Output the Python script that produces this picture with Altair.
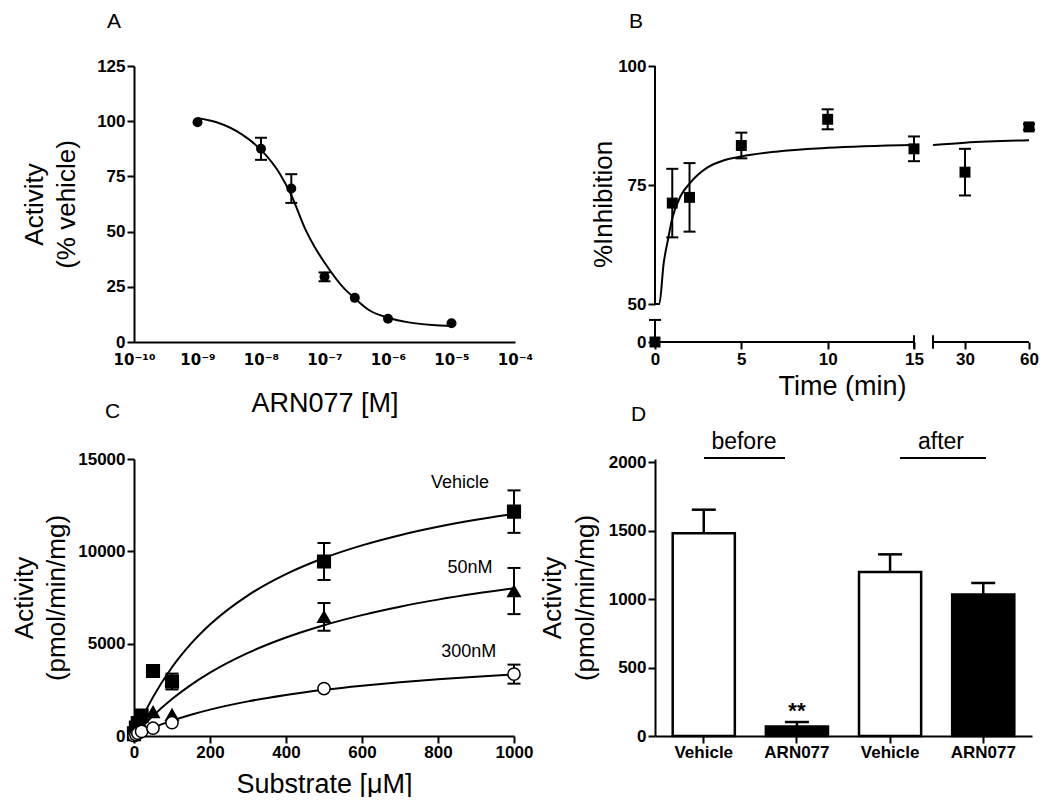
import altair as alt
import pandas as pd

FONT = "Liberation Sans"
INK = "black"

# ---------------- Panel A: concentration-response ----------------
A_CONC = [1e-9, 1e-8, 3e-8, 1e-7, 3e-7, 1e-6, 1e-5]
A_ACTIVITY = [99.5, 87.5, 69.5, 29.5, 20.0, 10.5, 8.5]
A_SEM = [0.0, 5.0, 6.5, 2.0, 0.0, 0.0, 0.0]
A_FIT_CONC = [1e-9, 2e-9, 5e-9, 1e-8, 2e-8, 3e-8, 5e-8, 7e-8, 1e-7, 2e-7,
              3e-7, 5e-7, 1e-6, 2e-6, 5e-6, 1e-5]
A_FIT_ACTIVITY = [101.5, 99.5, 94.0, 87.0, 76.0, 66.5, 51.0, 43.0, 36.0, 24.5,
                  19.8, 14.5, 11.0, 9.0, 7.7, 7.3]
A_XTICKS = [1e-10, 1e-9, 1e-8, 1e-7, 1e-6, 1e-5, 1e-4]
A_XTICK_LABELS = ["10⁻¹⁰", "10⁻⁹", "10⁻⁸", "10⁻⁷", "10⁻⁶", "10⁻⁵", "10⁻⁴"]
A_YTICKS = [0, 25, 50, 75, 100, 125]

# ---------------- Panel B: time course (broken axes) ----------------
B_TIME = [0, 1, 2, 5, 10, 15, 30, 60]
B_INHIBITION = [0.0, 71.2, 72.4, 83.3, 88.8, 82.6, 77.7, 87.2]
B_SEM = [4.8, 7.2, 7.2, 2.7, 2.1, 2.6, 4.9, 0.6]
B_FIT1_TIME = [0, 0.25, 0.5, 0.75, 1, 1.5, 2, 2.5, 3, 4, 5, 7, 10, 15]
B_FIT1_INHIBITION = [50, 50, 58.5, 63.5, 68.0, 72.8, 75.3, 77.2, 78.6, 80.2, 81.0, 82.0, 82.8, 83.4]
B_FIT2_TIME = [15.01, 30, 60]
B_FIT2_INHIBITION = [83.4, 83.9, 84.4]
B_XTICKS = [0, 5, 10, 15, 30, 60]
B_YTICKS = [0, 50, 75, 100]
B_BREAK_X = 15.01
B_LOW_TOP = 4.6

# ---------------- Panel C: substrate kinetics ----------------
C_SERIES = ["Vehicle", "50nM", "300nM"]
C_SUBSTRATE = [0, 5, 10, 20, 50, 100, 500, 1000]
C_VEHICLE = [150, 450, 700, 1100, 3520, 2950, 9450, 12150]
C_VEHICLE_SEM = [0, 0, 0, 0, 0, 430, 1000, 1150]
C_50NM = [50, 200, 350, 600, 1300, 1150, 6450, 7850]
C_50NM_SEM = [0, 0, 0, 0, 0, 0, 750, 1250]
C_300NM = [20, 80, 150, 250, 420, 720, 2570, 3350]
C_300NM_SEM = [0, 0, 0, 0, 0, 0, 0, 515]
C_FIT_SUBSTRATE = [0, 25, 50, 100, 150, 200, 300, 400, 500, 600, 700, 800, 900, 1000]
C_FIT_VEHICLE = [0, 1127, 2105, 3721, 5000, 6038, 7619, 8767, 9639, 10323, 10874, 11327, 11707, 12030]
C_FIT_50NM = [0, 571, 1091, 2000, 2769, 3429, 4500, 5333, 6000, 6545, 7000, 7385, 7714, 8000]
C_FIT_300NM = [0, 238, 455, 833, 1154, 1429, 1875, 2222, 2500, 2727, 2917, 3077, 3214, 3333]
C_XTICKS = [0, 200, 400, 600, 800, 1000]
C_YTICKS = [0, 5000, 10000, 15000]
C_LABEL_SUBSTRATE = [858, 884, 881]
C_LABEL_ACTIVITY = [13700, 9100, 4550]

# ---------------- Panel D: bars ----------------
D_KEYS = ["Vehicle|before", "ARN077|before", "Vehicle|after", "ARN077|after"]
D_TREATMENT = ["Vehicle", "ARN077", "Vehicle", "ARN077"]
D_ACTIVITY = [1480, 70, 1197, 1032]
D_SEM = [172, 32, 129, 85]
D_SIG = ["", "**", "", ""]
D_YTICKS = [0, 500, 1000, 1500, 2000]
D_GROUPS = ["before", "after"]

# ================= Panel A =================
a_df = pd.DataFrame({"conc": A_CONC, "act": A_ACTIVITY, "sem": A_SEM})
a_df["lo"] = a_df["act"] - a_df["sem"]
a_df["hi"] = a_df["act"] + a_df["sem"]
a_err = a_df[a_df["sem"] > 0]
a_caps = pd.concat([a_err[["conc"]].assign(act=a_err["lo"]), a_err[["conc"]].assign(act=a_err["hi"])])
a_fit = pd.DataFrame({"conc": A_FIT_CONC, "act": A_FIT_ACTIVITY})

parts = [f"datum.value < {t * 3:.3g} ? '{lab}'" for t, lab in zip(A_XTICKS[:-1], A_XTICK_LABELS[:-1])]
a_label_expr = " : ".join(parts) + f" : '{A_XTICK_LABELS[-1]}'"

a_sx = alt.Scale(type="log", domain=[A_XTICKS[0], A_XTICKS[-1]], nice=False)
a_sy = alt.Scale(domain=[0, 125], nice=False, zero=False)


def a_x():
    return alt.X("conc:Q", scale=a_sx,
                 axis=alt.Axis(values=A_XTICKS, labelExpr=a_label_expr, ticks=False,
                               labelFont="DejaVu Sans", labelFontSize=15,
                               title="ARN077 [M]", titleFontSize=27, labelPadding=10, titlePadding=23))


def a_y(field):
    return alt.Y(f"{field}:Q", scale=a_sy,
                 axis=alt.Axis(values=A_YTICKS, title=["Activity", "(% vehicle)"],
                               titlePadding=17, titleLineHeight=32))


a_line = alt.Chart(a_fit).mark_line(color=INK, strokeWidth=2, interpolate="monotone").encode(x=a_x(), y=a_y("act"))
a_rule = alt.Chart(a_err).mark_rule(color=INK, strokeWidth=2).encode(x=a_x(), y=a_y("lo"), y2="hi")
a_cap = alt.Chart(a_caps).mark_tick(color=INK, orient="horizontal", size=12, thickness=2, opacity=1).encode(x=a_x(), y=a_y("act"))
a_pts = alt.Chart(a_df).mark_point(shape="circle", filled=True, color=INK, size=100, opacity=1).encode(x=a_x(), y=a_y("act"))

panel_a = alt.layer(a_line, a_rule, a_cap, a_pts).properties(
    width=381, height=276,
    title=alt.TitleParams(text="A", anchor="start", frame="group", dx=-27, offset=8, fontSize=21,
                          font=FONT, fontWeight="normal", color=INK, baseline="alphabetic"))

# ================= Panel B =================
b_df = pd.DataFrame({"t": B_TIME, "v": B_INHIBITION, "sem": B_SEM})
b_df["lo"] = (b_df["v"] - b_df["sem"]).clip(lower=0)
b_df["hi"] = b_df["v"] + b_df["sem"]
b_caps = pd.concat([b_df[b_df["lo"] < b_df["v"]][["t"]].assign(v=b_df["lo"]), b_df[["t"]].assign(v=b_df["hi"])])
b_fit = pd.concat([
    pd.DataFrame({"t": B_FIT1_TIME, "v": B_FIT1_INHIBITION, "part": "early"}),
    pd.DataFrame({"t": B_FIT2_TIME, "v": B_FIT2_INHIBITION, "part": "late"}),
])
b_axis_lines = pd.DataFrame({
    "t": [0, B_BREAK_X, 0, 0],
    "t2": [15, B_XTICKS[-1], 0, 0],
    "v": [0, 0, 50, 0],
    "v2": [0, 0, 100, B_LOW_TOP],
})
b_break_marks = pd.DataFrame({"t": [15, B_BREAK_X], "v": [-1.4, -1.4], "v2": [1.4, 1.4]})

b_sx = alt.Scale(domain=[0, 15, B_BREAK_X, 60], range=[0, 259, 278, 374], nice=False, zero=False)
b_sy = alt.Scale(domain=[0, B_LOW_TOP, 50, 100], range=[276, 254, 238, 0], nice=False, zero=False)


def b_x():
    return alt.X("t:Q", scale=b_sx,
                 axis=alt.Axis(values=B_XTICKS, domain=False, title="Time (min)", titleFontSize=27,
                               titlePadding=6))


def b_y(field="v"):
    return alt.Y(f"{field}:Q", scale=b_sy,
                 axis=alt.Axis(values=B_YTICKS, domain=False, title="%Inhibition", titlePadding=1))


b_axes = alt.Chart(b_axis_lines).mark_rule(color=INK, strokeWidth=2).encode(x=b_x(), x2="t2", y=b_y(), y2="v2")
b_brk = alt.Chart(b_break_marks).mark_rule(color=INK, strokeWidth=2).encode(x=b_x(), y=b_y(), y2="v2")
b_line = alt.Chart(b_fit).mark_line(color=INK, strokeWidth=2, interpolate="monotone").encode(
    x=b_x(), y=b_y(), detail="part:N")
b_rule = alt.Chart(b_df).mark_rule(color=INK, strokeWidth=2).encode(x=b_x(), y=b_y("lo"), y2="hi")
b_cap = alt.Chart(b_caps).mark_tick(color=INK, orient="horizontal", size=12, thickness=2, opacity=1).encode(x=b_x(), y=b_y())
b_pts = alt.Chart(b_df).mark_point(shape="square", filled=True, color=INK, size=120, opacity=1).encode(x=b_x(), y=b_y())

panel_b = alt.layer(b_axes, b_brk, b_line, b_rule, b_cap, b_pts).properties(
    width=374, height=276,
    title=alt.TitleParams(text="B", anchor="start", frame="group", dx=-26, offset=8, fontSize=21,
                          font=FONT, fontWeight="normal", color=INK, baseline="alphabetic"))

# ================= Panel C =================
c_values = {"Vehicle": (C_VEHICLE, C_VEHICLE_SEM, C_FIT_VEHICLE),
            "50nM": (C_50NM, C_50NM_SEM, C_FIT_50NM),
            "300nM": (C_300NM, C_300NM_SEM, C_FIT_300NM)}
c_pts_df = pd.concat([pd.DataFrame({"s": C_SUBSTRATE, "a": c_values[k][0], "sem": c_values[k][1], "series": k})
                      for k in C_SERIES])
c_pts_df["lo"] = c_pts_df["a"] - c_pts_df["sem"]
c_pts_df["hi"] = c_pts_df["a"] + c_pts_df["sem"]
c_err = c_pts_df[c_pts_df["sem"] > 0]
c_caps = pd.concat([c_err[["s"]].assign(a=c_err["lo"]), c_err[["s"]].assign(a=c_err["hi"])])
c_fit = pd.concat([pd.DataFrame({"s": C_FIT_SUBSTRATE, "a": c_values[k][2], "series": k}) for k in C_SERIES])
c_lab = pd.DataFrame({"s": C_LABEL_SUBSTRATE, "a": C_LABEL_ACTIVITY, "series": C_SERIES})

c_sx = alt.Scale(domain=[0, 1000], nice=False, zero=False)
c_sy = alt.Scale(domain=[0, 15000], nice=False, zero=False)


def c_x():
    return alt.X("s:Q", scale=c_sx,
                 axis=alt.Axis(values=C_XTICKS, format="d", title="Substrate [μM]", titleFontSize=27,
                               labelPadding=1, titlePadding=11))


def c_y(field="a"):
    return alt.Y(f"{field}:Q", scale=c_sy,
                 axis=alt.Axis(values=C_YTICKS, format="d", title=["Activity", "(pmol/min/mg)"],
                               titlePadding=8, titleLineHeight=32))


c_line = alt.Chart(c_fit).mark_line(color=INK, strokeWidth=2, interpolate="monotone").encode(
    x=c_x(), y=c_y(), detail="series:N")
c_rule = alt.Chart(c_err).mark_rule(color=INK, strokeWidth=2).encode(x=c_x(), y=c_y("lo"), y2="hi")
c_cap = alt.Chart(c_caps).mark_tick(color=INK, orient="horizontal", size=13, thickness=2, opacity=1).encode(x=c_x(), y=c_y())
c_pts = alt.Chart(c_pts_df).mark_point(filled=True, stroke=INK, strokeWidth=1.5, opacity=1).encode(
    x=c_x(), y=c_y(),
    shape=alt.Shape("series:N", scale=alt.Scale(domain=C_SERIES, range=["square", "triangle-up", "circle"]), legend=None),
    fill=alt.Fill("series:N", scale=alt.Scale(domain=C_SERIES, range=[INK, INK, "white"]), legend=None),
    size=alt.Size("series:N", scale=alt.Scale(domain=C_SERIES, range=[160, 150, 85]), legend=None),
)
c_text = alt.Chart(c_lab).mark_text(font=FONT, fontSize=18, color=INK, align="center", baseline="middle").encode(
    x=c_x(), y=c_y(), text="series:N")

panel_c = alt.layer(c_line, c_rule, c_cap, c_pts, c_text).properties(
    width=380, height=277,
    title=alt.TitleParams(text="C", anchor="start", frame="group", dx=-29, offset=11, fontSize=21,
                          font=FONT, fontWeight="normal", color=INK, baseline="alphabetic"))

# ================= Panel D =================
d_df = pd.DataFrame({"key": D_KEYS, "treatment": D_TREATMENT, "a": D_ACTIVITY, "sem": D_SEM, "sig": D_SIG})
d_df["hi"] = d_df["a"] + d_df["sem"]
d_sig = d_df[d_df["sig"] != ""]

d_sx = alt.Scale(domain=D_KEYS, paddingInner=0.333, paddingOuter=0.19)
d_sy = alt.Scale(domain=[0, 2022], nice=False, zero=False)


def d_x():
    return alt.X("key:N", scale=d_sx, sort=D_KEYS,
                 axis=alt.Axis(labelExpr="split(datum.label, '|')[0]", labelAngle=0, title=None, labelPadding=1))


def d_y(field="a"):
    return alt.Y(f"{field}:Q", scale=d_sy,
                 axis=alt.Axis(values=D_YTICKS, format="d", title=["Activity", "(pmol/min/mg)"],
                               titlePadding=10, titleLineHeight=33))


d_bars = alt.Chart(d_df).mark_bar(stroke=INK, strokeWidth=2.5).encode(
    x=d_x(), y=d_y(),
    fill=alt.Fill("treatment:N", scale=alt.Scale(domain=["Vehicle", "ARN077"], range=["white", INK]), legend=None))
d_rule = alt.Chart(d_df).mark_rule(color=INK, strokeWidth=2.5).encode(x=d_x(), y=d_y(), y2="hi")
d_cap = alt.Chart(d_df).mark_tick(color=INK, orient="horizontal", size=24, thickness=2.5, opacity=1).encode(
    x=d_x(), y=d_y("hi"))
d_star = alt.Chart(d_sig).mark_text(font=FONT, fontSize=22, fontWeight="bold", color=INK, baseline="alphabetic",
                                   dy=-4).encode(x=d_x(), y=d_y("hi"), text="sig:N")

d_group_layers = []
for lab, tx, (x1, x2) in zip(D_GROUPS, [89, 286], [(49, 130), (245, 331)]):
    g = pd.DataFrame({"label": [lab]})
    d_group_layers.append(alt.Chart(g).mark_text(font=FONT, fontSize=23, color=INK, align="center",
                                                 baseline="middle").encode(
        x=alt.value(tx), y=alt.datum(2146), text="label:N"))
    d_group_layers.append(alt.Chart(g).mark_rule(color=INK, strokeWidth=2).encode(
        x=alt.value(x1), x2=alt.value(x2), y=alt.datum(2029)))

panel_d = alt.layer(d_bars, d_rule, d_cap, d_star, *d_group_layers).properties(
    width=377, height=277,
    title=alt.TitleParams(text="D", anchor="start", frame="group", dx=-24, offset=-11, fontSize=21,
                          font=FONT, fontWeight="normal", color=INK, baseline="alphabetic"))

chart = alt.concat(panel_a, panel_b, panel_c, panel_d, columns=2,
                   spacing={"row": 117, "column": 140}, bounds="flush").resolve_scale(
    fill="independent", shape="independent", size="independent"
).properties(
    padding={"left": 3, "top": 3, "right": 0, "bottom": 0}
).configure_axis(
    labelFont=FONT, labelFontSize=17, labelFontWeight="bold", labelColor=INK, labelPadding=2,
    labelFlush=False, labelOverlap=False,
    titleFont=FONT, titleFontSize=26, titleFontWeight="normal", titleColor=INK,
    domainColor=INK, domainWidth=2, tickColor=INK, tickWidth=2, tickSize=7, grid=False,
).configure_view(stroke=None)

chart.save("out.html", embed_options={"renderer": "svg", "actions": False})
